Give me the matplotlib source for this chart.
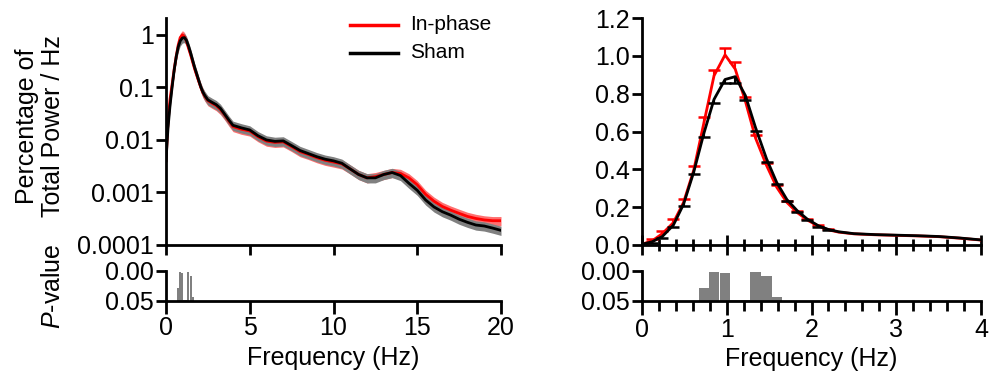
import numpy as np
import matplotlib.pyplot as plt
from matplotlib.ticker import FixedLocator, MultipleLocator

plt.rcParams['font.family'] = ['Liberation Sans', 'DejaVu Sans']
plt.rcParams['mathtext.fontset'] = 'custom'
plt.rcParams['mathtext.it'] = 'Liberation Sans:italic'
plt.rcParams['mathtext.rm'] = 'Liberation Sans'
FS = 18

# --- data: low-frequency bins (0.122 Hz resolution) ---
bin_freq = [0.0, 0.12, 0.24, 0.37, 0.49, 0.61, 0.73, 0.85, 0.98, 1.10, 1.22,
            1.34, 1.47, 1.59, 1.71, 1.83, 1.95, 2.08, 2.20, 2.32]
sham_bins = [0.004, 0.017, 0.045, 0.105, 0.215, 0.385, 0.59, 0.77, 0.875, 0.89,
             0.79, 0.62, 0.455, 0.33, 0.24, 0.182, 0.137, 0.102, 0.082, 0.07]
inphase_bins = [0.004, 0.022, 0.06, 0.118, 0.225, 0.395, 0.645, 0.895, 1.005, 0.93,
                0.76, 0.565, 0.42, 0.305, 0.225, 0.172, 0.132, 0.10, 0.08, 0.068]
sham_err = [0.002, 0.004, 0.006, 0.008, 0.009, 0.012, 0.017, 0.018, 0.021, 0.036,
            0.024, 0.017, 0.015, 0.010, 0.008, 0.006, 0.005, 0.005, 0.004]
inphase_err = [0.003, 0.008, 0.014, 0.018, 0.018, 0.025, 0.03, 0.03, 0.035, 0.035,
               0.02, 0.015, 0.012, 0.010, 0.009, 0.008, 0.007, 0.006, 0.005]

# right panel continuation 2.5-4 Hz
right_tail_freq = [2.5, 2.75, 3.0, 3.25, 3.5, 3.75, 4.0]
sham_right_tail = [0.06, 0.055, 0.052, 0.049, 0.045, 0.037, 0.027]
inphase_right_tail = [0.059, 0.054, 0.051, 0.048, 0.044, 0.036, 0.026]

# left panel continuation 2.5-20 Hz
left_tail_freq = [2.5, 2.75, 3.0, 3.25, 3.5, 3.75, 4.0, 4.5, 5.0, 5.5, 6.0, 6.5, 7.0,
                  7.5, 8.0, 8.5, 9.0, 9.5, 10.0, 10.5, 11.0, 11.5, 12.0, 12.5, 13.0,
                  13.5, 14.0, 14.5, 15.0, 15.5, 16.0, 16.5, 17.0, 17.5, 18.0, 18.5,
                  19.0, 19.5, 20.0]
sham_left_tail = [0.058, 0.052, 0.047, 0.040, 0.031, 0.024, 0.019, 0.017, 0.0155,
                  0.012, 0.0100, 0.0094, 0.0096, 0.0078, 0.0063, 0.0055, 0.0048,
                  0.0043, 0.0040, 0.0036, 0.0028, 0.0022, 0.0019, 0.0019, 0.0022,
                  0.0024, 0.0021, 0.0015, 0.0011, 0.00072, 0.00053, 0.00043,
                  0.00037, 0.00031, 0.00027, 0.00024, 0.00023, 0.00021, 0.00019]
inphase_left_tail = [0.056, 0.050, 0.045, 0.038, 0.030, 0.023, 0.018, 0.016, 0.0148,
                     0.0115, 0.0095, 0.0090, 0.0092, 0.0075, 0.0060, 0.0053, 0.0046,
                     0.0041, 0.0038, 0.0035, 0.0028, 0.0022, 0.0019, 0.0020, 0.0022,
                     0.0024, 0.0023, 0.0019, 0.0014, 0.00092, 0.00068, 0.00054,
                     0.00046, 0.00040, 0.00035, 0.00032, 0.00030, 0.00029, 0.00029]
sham_band = 0.2       # relative half-width of shaded SEM band
inphase_band = 0.2

# p-values per bin
p_freq = [0.73, 0.85, 0.98, 1.10, 1.22, 1.34, 1.47, 1.59]
p_vals = [0.028, 0.001, 0.004, 0.0485, 0.0485, 0.001, 0.008, 0.043]
bin_width = 0.122

left_f = np.array(bin_freq + left_tail_freq)
left_sham = np.array(sham_bins + sham_left_tail)
left_inp = np.array(inphase_bins + inphase_left_tail)
right_f = np.array(bin_freq + right_tail_freq)
right_sham = np.array(sham_bins + sham_right_tail)
right_inp = np.array(inphase_bins + inphase_right_tail)

W, H = 989, 386
fig = plt.figure(figsize=(W / 100, H / 100), dpi=100)


def ax_at(x0, x1, ytop, ybot):
    return fig.add_axes([x0 / W, 1 - ybot / H, (x1 - x0) / W, (ybot - ytop) / H])


def style(ax):
    for s in ['top', 'right']:
        ax.spines[s].set_visible(False)
    for s in ['left', 'bottom']:
        ax.spines[s].set_linewidth(2)
    ax.tick_params(labelsize=FS, width=2, length=7, pad=2)


# ---------- left top ----------
ax1 = ax_at(166, 501, 18, 245)
style(ax1)
ax1.fill_between(left_f, left_inp * (1 - inphase_band), left_inp * (1 + inphase_band),
                 color='#ff7070', lw=0)
ax1.fill_between(left_f, left_sham * (1 - sham_band), left_sham * (1 + sham_band),
                 color='#808080', lw=0)
ax1.plot(left_f, left_inp, color='red', lw=2)
ax1.plot(left_f, left_sham, color='black', lw=2)
ax1.set_yscale('log')
ax1.set_ylim(1e-4, 2.1)
ax1.set_xlim(0, 20)
ax1.yaxis.set_major_locator(FixedLocator([1e-4, 1e-3, 1e-2, 1e-1, 1]))
ax1.yaxis.set_minor_locator(FixedLocator([]))
ax1.set_yticklabels(['0.0001', '0.001', '0.01', '0.1', '1'])
ax1.set_xticks([0, 5, 10, 15, 20])
ax1.set_xticklabels([])
ax1.plot([350 / W, 398 / W], [1 - 25 / H] * 2, color='red', lw=2.5,
         transform=fig.transFigure)
ax1.plot([350 / W, 398 / W], [1 - 53 / H] * 2, color='black', lw=2.5,
         transform=fig.transFigure)
fig.text(410 / W, 1 - 25 / H, 'In-phase', fontsize=15, va='center')
fig.text(410 / W, 1 - 53 / H, 'Sham', fontsize=15, va='center')

# ---------- left bottom ----------
ax2 = ax_at(166, 501, 271, 301)
style(ax2)
ax2.bar(p_freq, np.array(p_vals) - 0.05, bottom=0.05, width=bin_width,
        color='#808080', lw=0)
ax2.set_ylim(0.05, 0)
ax2.set_xlim(0, 20)
ax2.set_yticks([0, 0.05])
ax2.set_yticklabels(['0.00', '0.05'])
ax2.set_xticks([0, 5, 10, 15, 20])
ax2.tick_params(axis='x', length=9)
ax2.set_xlabel('Frequency (Hz)', fontsize=FS, labelpad=4)

# ---------- right top ----------
ax3 = ax_at(642, 981, 18, 245)
style(ax3)
n_err = len(sham_err)
ef = right_f[:n_err]
inp_top = right_inp[:n_err] + np.array(inphase_err)
sham_bot = right_sham[:n_err] - np.array(sham_err)
ax3.plot(right_f, right_inp, color='red', lw=2)
ax3.vlines(ef, right_inp[:n_err], inp_top, color='red', lw=1.5)
ax3.plot(ef, inp_top, ls='none', marker='_', ms=9, mew=1.8, color='red')
ax3.plot(right_f, right_sham, color='black', lw=2)
ax3.vlines(ef, sham_bot, right_sham[:n_err], color='black', lw=1.5)
ax3.plot(ef, sham_bot, ls='none', marker='_', ms=9, mew=1.8, color='black')
ax3.set_xlim(0, 4)
ax3.set_ylim(0, 1.2)
ax3.set_yticks(np.arange(0, 1.21, 0.2))
ax3.set_yticklabels(['%.1f' % v for v in np.arange(0, 1.21, 0.2)])
ax3.set_xticks([0, 1, 2, 3, 4])
ax3.set_xticklabels([])
ax3.xaxis.set_minor_locator(MultipleLocator(0.2))
ax3.tick_params(axis='x', which='major', direction='inout', length=14)
ax3.tick_params(axis='x', which='minor', direction='inout', length=8, width=2)

# ---------- right bottom ----------
ax4 = ax_at(642, 981, 271, 301)
style(ax4)
ax4.bar(p_freq, np.array(p_vals) - 0.05, bottom=0.05, width=bin_width,
        color='#808080', lw=0)
ax4.set_ylim(0.05, 0)
ax4.set_xlim(0, 4)
ax4.set_yticks([0, 0.05])
ax4.set_yticklabels(['0.00', '0.05'])
ax4.set_xticks([0, 1, 2, 3, 4])
ax4.xaxis.set_minor_locator(MultipleLocator(0.2))
ax4.tick_params(axis='x', which='major', length=10)
ax4.tick_params(axis='x', which='minor', length=7, width=2)
ax4.set_xlabel('Frequency (Hz)', fontsize=FS, labelpad=4)

# y labels
fig.text(40 / W, 1 - 126 / H, 'Percentage of\nTotal Power / Hz', rotation=90,
         ha='center', va='center', multialignment='center', fontsize=FS,
         linespacing=1.1)
fig.text(53 / W, 1 - 286 / H, '$P$-value', rotation=90, ha='center',
         va='center', fontsize=FS)

fig.savefig('out.png', dpi=100)
